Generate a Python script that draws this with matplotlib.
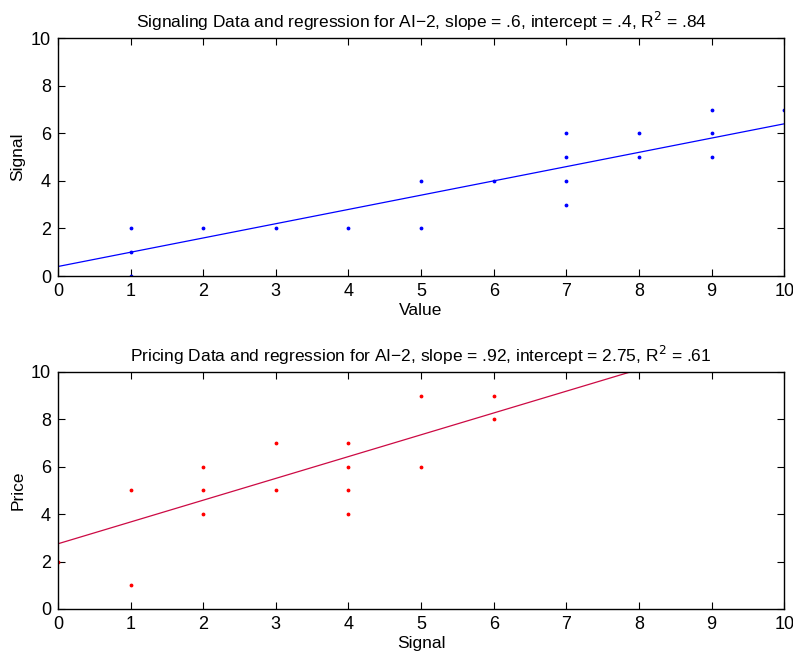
import matplotlib
matplotlib.use("Agg")
import matplotlib.pyplot as plt
import numpy as np

plt.rcParams['font.family'] = ['Liberation Sans', 'DejaVu Sans']

# signaling data (value -> signal)
sig_value = [1, 1, 1, 2, 3, 4, 5, 5, 6, 7, 7, 7, 7, 8, 8, 9, 9, 9, 10]
sig_signal = [2, 1, 0, 2, 2, 2, 4, 2, 4, 6, 5, 4, 3, 6, 5, 7, 6, 5, 7]
sig_slope, sig_intercept = 0.6, 0.4

# pricing data (signal -> price)
pr_signal = [0, 1, 1, 2, 2, 2, 3, 3, 4, 4, 4, 4, 5, 5, 6, 6]
pr_price = [2, 5, 1, 6, 5, 4, 7, 5, 7, 6, 5, 4, 9, 6, 9, 8]
pr_slope, pr_intercept = 0.92, 2.75

ticks = list(range(0, 11))
yticks = [0, 2, 4, 6, 8, 10]

fig = plt.figure(figsize=(7.93, 6.58), dpi=100)
ax1 = fig.add_axes([0.073, 0.5805, 0.916, 0.3615])
ax2 = fig.add_axes([0.073, 0.0745, 0.916, 0.3602])

xs = np.array([0, 10])

ax1.plot(sig_value, sig_signal, '.', color='blue', markersize=3.5)
ax1.plot(xs, sig_slope * xs + sig_intercept, color='blue', lw=0.9)
ax1.set_title("Signaling Data and regression for AI\u22122, slope = .6, intercept = .4, R$^2$ = .84",
              fontsize=12.5, pad=7)
ax1.set_xlabel("Value", fontsize=12.5, labelpad=2)
ax1.set_ylabel("Signal", fontsize=12.5)

ax2.plot(pr_signal, pr_price, '.', color='red', markersize=3.5)
ax2.plot(xs, pr_slope * xs + pr_intercept, color='#cc0a44', lw=0.9)
ax2.set_title("Pricing Data and regression for AI\u22122, slope = .92, intercept = 2.75, R$^2$ = .61",
              fontsize=12.5, pad=7)
ax2.set_xlabel("Signal", fontsize=12.5, labelpad=2)
ax2.set_ylabel("Price", fontsize=12.5)

for ax in (ax1, ax2):
    ax.set_xlim(0, 10)
    ax.set_ylim(0, 10)
    ax.set_xticks(ticks)
    ax.set_yticks(yticks)
    ax.tick_params(direction='in', top=True, right=True, labelsize=13, length=5, pad=5)
    for s in ax.spines.values():
        s.set_linewidth(1.0)

fig.savefig("out.png", dpi=100)
